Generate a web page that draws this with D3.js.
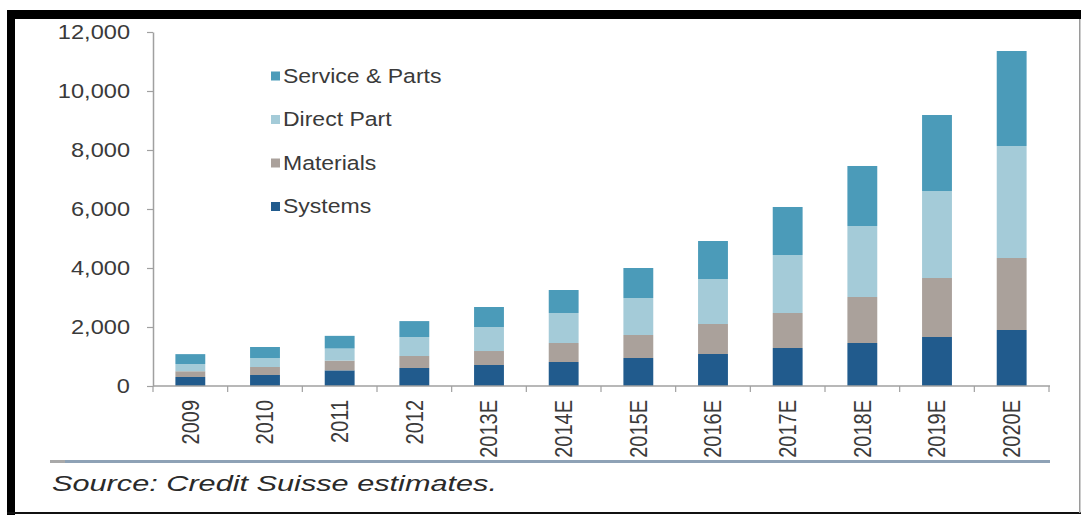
<!DOCTYPE html>
<html>
<head>
<meta charset="utf-8">
<script src="https://cdn.jsdelivr.net/npm/d3@7/dist/d3.min.js"></script>
<style>
  html, body { margin: 0; padding: 0; background: #fff; }
  svg { display: block; }
  text { font-family: "Liberation Sans", Arial, Helvetica, sans-serif; fill: #3a3a3a; }
</style>
</head>
<body>
<svg id="chart" width="1082" height="516"></svg>
<script>
// ---- data ----
const categories = ["2009","2010","2011","2012","2013E","2014E","2015E","2016E","2017E","2018E","2019E","2020E"];
const systems      = [305, 373, 530, 610, 712, 814, 949, 1085, 1288, 1458, 1661, 1898];
const materials    = [195, 271, 330, 407, 474, 644, 780, 1017, 1187, 1559, 2000, 2441];
const directPart   = [246, 305, 410, 644, 814, 1017, 1254, 1525, 1966, 2407, 2949, 3797];
const serviceParts = [334, 373, 430, 539, 678, 779, 1017, 1288, 1627, 2034, 2576, 3220];
const seriesKeys   = ["Systems", "Materials", "Direct Part", "Service & Parts"];
const legendOrder  = ["Service & Parts", "Direct Part", "Materials", "Systems"];
const yTicks       = [0, 2000, 4000, 6000, 8000, 10000, 12000];
const sourceText   = "Source: Credit Suisse estimates.";

const colors = {
  "Systems": "#215b8d",
  "Materials": "#aaa19b",
  "Direct Part": "#a4cbd8",
  "Service & Parts": "#4b9bb9"
};

const table = categories.map((c, i) => ({
  cat: c,
  "Systems": systems[i],
  "Materials": materials[i],
  "Direct Part": directPart[i],
  "Service & Parts": serviceParts[i]
}));

// ---- layout ----
const svg = d3.select("#chart");
const SX = 1.18; // horizontal stretch of the original picture's text
const x0 = 153, x1 = 1049, yBase = 386, yTop = 32;

// frame
svg.append("rect").attr("x", 0).attr("y", 0).attr("width", 1082).attr("height", 516).attr("fill", "#fff");
svg.append("rect").attr("x", 7).attr("y", 10).attr("width", 1074).attr("height", 9).attr("fill", "#000");
svg.append("rect").attr("x", 7).attr("y", 10).attr("width", 8).attr("height", 505).attr("fill", "#000");
svg.append("rect").attr("x", 7).attr("y", 512).attr("width", 1074).attr("height", 2).attr("fill", "#111");
svg.append("rect").attr("x", 1079).attr("y", 19).attr("width", 1.5).attr("height", 494).attr("fill", "#9a9a9a");

const x = d3.scaleBand().domain(categories).range([x0, x1]).paddingInner(0.6).paddingOuter(0.3);
const y = d3.scaleLinear().domain([0, 12000]).range([yBase, yTop]);

// bars
const stack = d3.stack().keys(seriesKeys)(table);
svg.append("g").selectAll("g").data(stack).join("g")
  .attr("fill", d => colors[d.key])
  .selectAll("rect").data(d => d).join("rect")
  .attr("x", d => x(d.data.cat))
  .attr("width", x.bandwidth())
  .attr("y", d => y(d[1]))
  .attr("height", d => y(d[0]) - y(d[1]));

// y axis
const yAxis = svg.append("g").attr("transform", `translate(${x0},0)`)
  .call(d3.axisLeft(y).tickValues(yTicks).tickFormat(d3.format(",")).tickSize(6).tickSizeOuter(0));
yAxis.select(".domain").attr("stroke", "#a0a0a0").attr("stroke-width", 1.5);
yAxis.selectAll(".tick line").attr("stroke", "#a0a0a0").attr("stroke-width", 1.2);
yAxis.selectAll(".tick text")
  .attr("x", -23 / SX)
  .attr("transform", `scale(${SX},1)`)
  .style("font-size", "20px")
  .style("fill", "#3a3a3a");

// x axis
const step = x.step();
const xAxis = svg.append("g").attr("transform", `translate(0,${yBase})`)
  .call(d3.axisBottom(x).tickSize(0).tickSizeOuter(0));
xAxis.select(".domain").attr("stroke", "#a0a0a0").attr("stroke-width", 1.5)
  .attr("d", `M${x0},0H${x1 + 1}`);
xAxis.selectAll(".tick text")
  .attr("x", -14).attr("y", 0).attr("dy", "0.35em")
  .attr("text-anchor", "end")
  .attr("transform", `scale(${SX},1) rotate(-90)`)
  .style("font-size", "20px")
  .style("fill", "#3a3a3a");
// boundary ticks between categories
const bounds = categories.map(c => x(c) + x.bandwidth() / 2 - step / 2).concat([x(categories[categories.length - 1]) + x.bandwidth() / 2 + step / 2]);
xAxis.append("g").selectAll("line").data(bounds).join("line")
  .attr("x1", d => d).attr("x2", d => d).attr("y1", 0).attr("y2", 6)
  .attr("stroke", "#a0a0a0").attr("stroke-width", 1.2);

// legend
const legend = svg.append("g");
const lg = legend.selectAll("g").data(legendOrder).join("g")
  .attr("transform", (d, i) => `translate(271,${76 + i * 43.5})`);
lg.append("rect").attr("x", 0).attr("y", -4.5).attr("width", 9).attr("height", 9)
  .attr("fill", d => colors[d]);
lg.append("text")
  .attr("x", 12 / SX).attr("y", 0).attr("dy", "0.35em")
  .attr("transform", `scale(${SX},1)`)
  .style("font-size", "19.5px")
  .text(d => d);

// separator line
svg.append("rect").attr("x", 50).attr("y", 460).attr("width", 1000).attr("height", 3).attr("fill", "#8ea2b6");
svg.append("rect").attr("x", 50).attr("y", 460).attr("width", 15).attr("height", 3).attr("fill", "#a9a9a9");

// source
svg.append("text")
  .attr("x", 52).attr("y", 491)
  .attr("textLength", 445).attr("lengthAdjust", "spacingAndGlyphs")
  .style("font-size", "22px").style("font-style", "italic").style("fill", "#2a2a2a")
  .text(sourceText);
</script>
</body>
</html>
